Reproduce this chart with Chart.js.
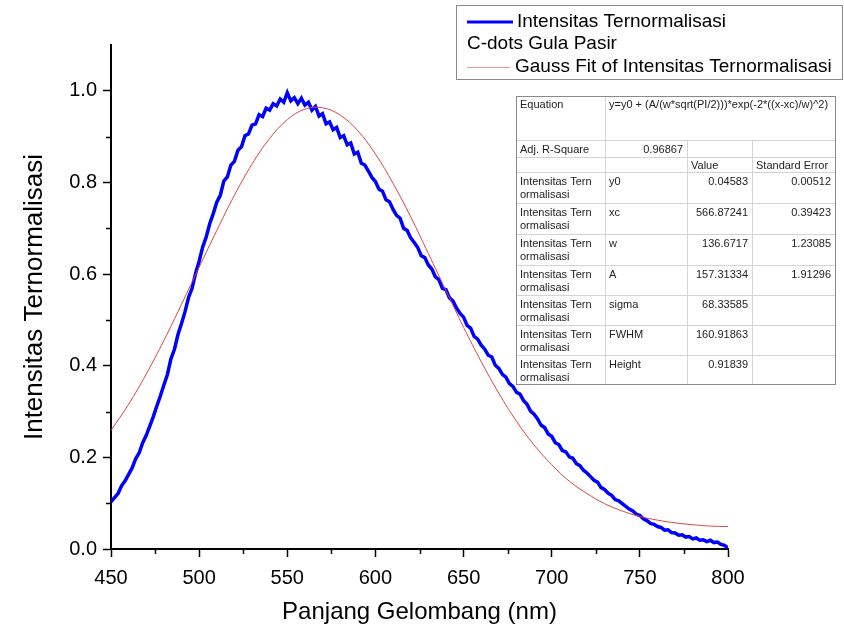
<!DOCTYPE html>
<html>
<head>
<meta charset="utf-8">
<script src="https://cdn.jsdelivr.net/npm/chart.js@4.4.1/dist/chart.umd.min.js"></script>
<style>
  html, body { margin: 0; padding: 0; background: #fff; }
  #wrap { width: 844px; height: 632px; position: relative; }
</style>
</head>
<body>
<div id="wrap"><canvas id="plChart"></canvas></div>
<script>
// PL spectrum of C-dots (gula pasir), normalised, with Gaussian fit

// measured spectrum, sampled every 2 nm from 450 nm
const waveStart = 450;
const waveStep = 2;
const intensitas = [
  0.103, 0.112, 0.121, 0.138, 0.149, 0.163, 0.177, 0.197, 0.210, 0.232,
  0.248, 0.268, 0.289, 0.312, 0.334, 0.358, 0.381, 0.415, 0.436, 0.468,
  0.492, 0.518, 0.549, 0.569, 0.602, 0.628, 0.659, 0.681, 0.710, 0.732,
  0.757, 0.772, 0.803, 0.812, 0.838, 0.846, 0.870, 0.878, 0.902, 0.906,
  0.925, 0.928, 0.948, 0.944, 0.962, 0.958, 0.972, 0.967, 0.982, 0.975,
  0.996, 0.978, 0.985, 0.972, 0.984, 0.969, 0.975, 0.958, 0.966, 0.945,
  0.950, 0.928, 0.932, 0.915, 0.920, 0.898, 0.902, 0.882, 0.886, 0.862,
  0.866, 0.842, 0.838, 0.825, 0.811, 0.802, 0.785, 0.781, 0.762, 0.758,
  0.741, 0.728, 0.722, 0.700, 0.695, 0.679, 0.669, 0.658, 0.640, 0.636,
  0.620, 0.611, 0.594, 0.588, 0.569, 0.566, 0.548, 0.541, 0.526, 0.514,
  0.506, 0.488, 0.482, 0.464, 0.458, 0.445, 0.436, 0.423, 0.419, 0.401,
  0.394, 0.381, 0.375, 0.361, 0.355, 0.342, 0.338, 0.324, 0.316, 0.301,
  0.294, 0.284, 0.270, 0.265, 0.251, 0.246, 0.232, 0.228, 0.215, 0.212,
  0.201, 0.198, 0.186, 0.182, 0.172, 0.166, 0.158, 0.150, 0.146, 0.134,
  0.130, 0.122, 0.117, 0.108, 0.105, 0.099, 0.093, 0.087, 0.083, 0.076,
  0.073, 0.066, 0.062, 0.056, 0.054, 0.049, 0.047, 0.041, 0.042, 0.036,
  0.035, 0.030, 0.031, 0.026, 0.027, 0.022, 0.024, 0.019, 0.020, 0.016,
  0.019, 0.014, 0.015, 0.010, 0.008, 0.002
];

const fitStart = 450;
const fitStep = 10;
const gaussFit = [
  0.259, 0.316, 0.382, 0.455, 0.534, 0.615, 0.695, 0.772, 0.840, 0.896,
  0.937, 0.960, 0.963, 0.947, 0.913, 0.862, 0.798, 0.725, 0.645, 0.564,
  0.484, 0.409, 0.340, 0.279, 0.227, 0.184, 0.148, 0.121, 0.099, 0.083,
  0.071, 0.063, 0.057, 0.053, 0.050, 0.049
];

const xMinorTicks = [475, 525, 575, 625, 675, 725, 775];
const yMinorTicks = [0.1, 0.3, 0.5, 0.7, 0.9];

// fit result table
const fitEquation = 'y=y0 + (A/(w*sqrt(PI/2)))*exp(-2*((x-xc)/w)^2)';
const adjRSquare = '0.96867';
const fitParams = ['y0', 'xc', 'w', 'A', 'sigma', 'FWHM', 'Height'];
const fitValues = ['0.04583', '566.87241', '136.6717', '157.31334', '68.33585', '160.91863', '0.91839'];
const fitErrors = ['0.00512', '0.39423', '1.23085', '1.91296', '', '', ''];

const FONT = "'Liberation Sans', Arial, sans-serif";
const BLUE = '#0000ff';
const RED = 'rgb(214,70,70)';

const specPoints = intensitas.map((v, i) => ({ x: waveStart + i * waveStep, y: v }));
const fitPoints = gaussFit.map((v, i) => ({ x: fitStart + i * fitStep, y: v }));

// minor ticks, legend box and the fit table
const extrasPlugin = {
  id: 'extras',
  afterDraw(chart) {
    const ctx = chart.ctx;
    const xs = chart.scales.x, ys = chart.scales.y;
    const area = chart.chartArea;

    ctx.save();
    ctx.strokeStyle = '#000';
    ctx.lineWidth = 1.5;
    xMinorTicks.forEach(v => {
      const px = Math.round(xs.getPixelForValue(v)) + 0.5;
      ctx.beginPath(); ctx.moveTo(px, area.bottom); ctx.lineTo(px, area.bottom + 5); ctx.stroke();
    });
    yMinorTicks.forEach(v => {
      const py = Math.round(ys.getPixelForValue(v)) + 0.5;
      ctx.beginPath(); ctx.moveTo(area.left, py); ctx.lineTo(area.left - 5, py); ctx.stroke();
    });

    // legend
    const ds = chart.data.datasets;
    ctx.fillStyle = '#fff';
    ctx.fillRect(456, 5, 387, 74);
    ctx.strokeStyle = '#8a8a8a';
    ctx.lineWidth = 1;
    ctx.strokeRect(456.5, 5.5, 386, 74);
    ctx.font = '19px ' + FONT;
    ctx.textBaseline = 'middle';
    ctx.textAlign = 'left';
    ctx.strokeStyle = BLUE; ctx.lineWidth = 3;
    ctx.beginPath(); ctx.moveTo(467, 22); ctx.lineTo(513, 22); ctx.stroke();
    ctx.fillStyle = '#000';
    ctx.fillText(ds[0].label, 517, 22);
    ctx.fillText('C-dots Gula Pasir', 467, 44);
    ctx.strokeStyle = 'rgb(232,150,160)'; ctx.lineWidth = 1;
    ctx.beginPath(); ctx.moveTo(467, 67.5); ctx.lineTo(510, 67.5); ctx.stroke();
    ctx.fillText(ds[1].label, 515, 67);

    // table
    const cols = [516, 605, 687, 752, 835];
    const rows = [96, 140, 157, 172, 203, 234, 265, 295, 325, 355, 384];
    ctx.fillStyle = '#fff';
    ctx.fillRect(cols[0], rows[0], cols[4] - cols[0], rows[10] - rows[0]);
    ctx.strokeStyle = '#d4d4d4';
    ctx.lineWidth = 1;
    for (let r = 1; r < rows.length - 1; r++) {
      ctx.beginPath(); ctx.moveTo(cols[0], rows[r] + 0.5); ctx.lineTo(cols[4], rows[r] + 0.5); ctx.stroke();
    }
    ctx.beginPath(); ctx.moveTo(cols[1] + 0.5, rows[0]); ctx.lineTo(cols[1] + 0.5, rows[10]); ctx.stroke();
    [cols[2], cols[3]].forEach(c => {
      ctx.beginPath(); ctx.moveTo(c + 0.5, rows[1]); ctx.lineTo(c + 0.5, rows[10]); ctx.stroke();
    });
    ctx.strokeStyle = '#8a8a8a';
    ctx.strokeRect(cols[0] + 0.5, rows[0] + 0.5, cols[4] - cols[0], rows[10] - rows[0]);

    ctx.font = '11px ' + FONT;
    ctx.fillStyle = '#222';
    ctx.textBaseline = 'alphabetic';
    ctx.textAlign = 'left';
    ctx.fillText('Equation', 520, rows[0] + 12);
    ctx.fillText(fitEquation, 609, rows[0] + 12);
    ctx.fillText('Adj. R-Square', 520, rows[1] + 13);
    ctx.fillText('Value', 691, rows[2] + 12);
    ctx.fillText('Standard Error', 756, rows[2] + 12);
    ctx.textAlign = 'right';
    ctx.fillText(adjRSquare, 683, rows[1] + 13);
    fitParams.forEach((p, i) => {
      const t = rows[3 + i];
      ctx.textAlign = 'left';
      ctx.fillText('Intensitas Tern', 520, t + 13);
      ctx.fillText('ormalisasi', 520, t + 26);
      ctx.fillText(p, 609, t + 13);
      ctx.textAlign = 'right';
      ctx.fillText(fitValues[i], 748, t + 13);
      ctx.fillText(fitErrors[i], 831, t + 13);
    });
    ctx.restore();
  }
};

new Chart(document.getElementById('plChart'), {
  type: 'line',
  data: {
    datasets: [
      {
        label: 'Intensitas Ternormalisasi',
        data: specPoints,
        borderColor: BLUE,
        borderWidth: 3.5,
        pointRadius: 0,
        tension: 0,
        order: 2
      },
      {
        label: 'Gauss Fit of Intensitas Ternormalisasi',
        data: fitPoints,
        borderColor: RED,
        borderWidth: 1,
        pointRadius: 0,
        tension: 0.4,
        order: 1
      }
    ]
  },
  options: {
    responsive: true,
    maintainAspectRatio: false,
    animation: false,
    layout: { padding: { top: 45, right: 116, left: 0, bottom: 0 } },
    plugins: { legend: { display: false }, tooltip: { enabled: false } },
    scales: {
      x: {
        type: 'linear',
        min: 450,
        max: 800,
        ticks: { stepSize: 50, color: '#000', font: { family: FONT, size: 20 }, padding: 9, maxRotation: 0 },
        grid: { drawOnChartArea: false, drawTicks: true, tickLength: 8, tickColor: '#000', tickWidth: 1.5 },
        border: { color: '#000', width: 2 },
        title: { display: true, text: 'Panjang Gelombang (nm)', color: '#000', font: { family: FONT, size: 24 }, padding: { top: 4, bottom: 5 } },
        afterFit: (s) => { s.height = 83; }
      },
      y: {
        min: 0,
        max: 1.1,
        ticks: { stepSize: 0.2, includeBounds: false, color: '#000', font: { family: FONT, size: 20 }, padding: 6,
                 callback: (v) => v.toFixed(1) },
        grid: { drawOnChartArea: false, drawTicks: true, tickLength: 8, tickColor: '#000', tickWidth: 1.5 },
        border: { color: '#000', width: 2 },
        title: { display: true, text: 'Intensitas Ternormalisasi', color: '#000', font: { family: FONT, size: 26 }, padding: { top: 19, bottom: 4 } },
        afterFit: (s) => { s.width = 111; }
      }
    }
  },
  plugins: [extrasPlugin]
});
</script>
</body>
</html>
